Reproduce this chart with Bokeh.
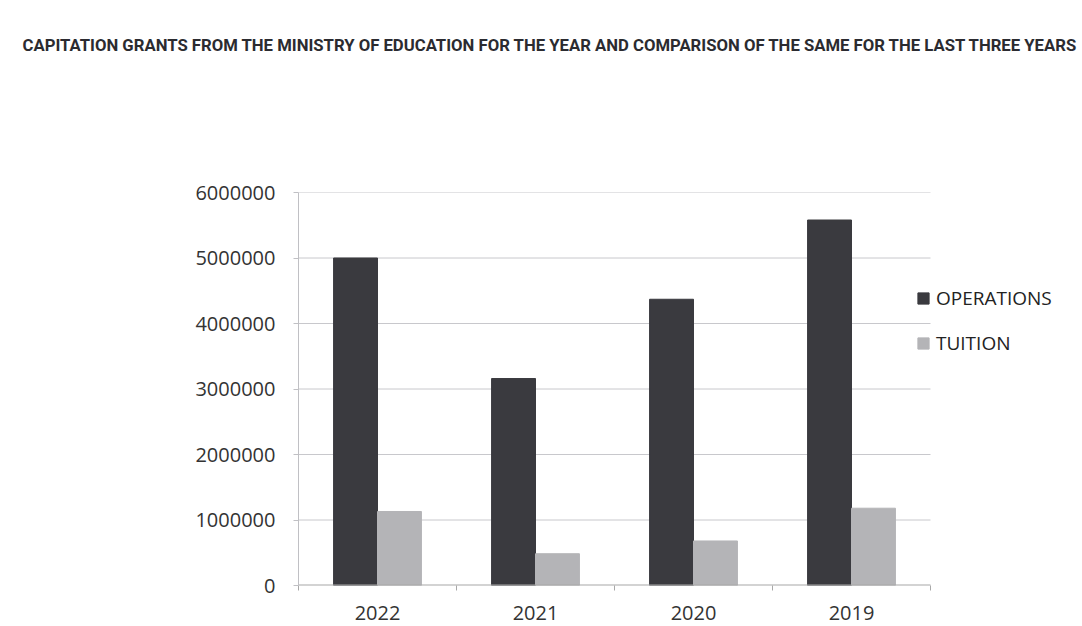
import numpy as np
from bokeh.plotting import figure
from bokeh.models import (Range1d, FixedTicker, BasicTickFormatter, Legend, LegendItem,
                          ColumnDataSource, LinearAxis)
from bokeh.embed import file_html
from bokeh.resources import INLINE

title_text = ("CAPITATION GRANTS FROM THE MINISTRY OF EDUCATION FOR THE YEAR AND "
              "COMPARISON OF THE SAME FOR THE LAST THREE YEARS")
years = ["2022", "2021", "2020", "2019"]
operations = [5000000, 3160000, 4370000, 5580000]
tuition = [1130000, 485000, 680000, 1180000]
y_ticks = [0, 1000000, 2000000, 3000000, 4000000, 5000000, 6000000]

OPS_COLOR = "#3a3a3f"
TUI_COLOR = "#b4b4b7"
GRID_COLOR = "#c8c8cc"
AXIS_COLOR = "#a8a8a8"
FONT = "Open Sans"

# layout (pixels): plot area spans x 298..930, y 192..585; the frame is extended to the
# right edge so that the legend (drawn inside the frame) is not clipped
LEFT, AXIS_RIGHT, WIDTH = 298, 930, 1082
n = len(years)
x_end = n * (WIDTH - LEFT) / (AXIS_RIGHT - LEFT)

centers = np.arange(n) + 0.5
bar_w = 0.278
src = ColumnDataSource(dict(x_ops=centers - bar_w / 2, x_tui=centers + bar_w / 2,
                            ops=operations, tui=tuition, year=years))

p = figure(width=WIDTH, height=626, output_backend="svg", toolbar_location=None,
           x_range=Range1d(0, x_end), y_range=Range1d(0, 6000000),
           min_border_left=LEFT, min_border_right=0, min_border_top=192,
           min_border_bottom=41, background_fill_color="white",
           border_fill_color="white", outline_line_color=None)

p.title.text = title_text
p.title.text_font = "Roboto"
p.title.text_font_style = "bold"
p.title.text_font_size = "16.7px"
p.title.text_color = "#2b2b30"
p.title.align = "left"
p.title.offset = -276
p.title.standoff = 10

# gridlines limited to the category area
grid_y = y_ticks[1:]
p.segment(x0=[0] * len(grid_y), x1=[n] * len(grid_y), y0=grid_y, y1=grid_y,
          line_color=GRID_COLOR, line_width=1)

r_ops = p.vbar(x="x_ops", top="ops", width=bar_w, bottom=0, source=src,
               fill_color=OPS_COLOR, line_color=OPS_COLOR)
r_tui = p.vbar(x="x_tui", top="tui", width=bar_w, bottom=0, source=src,
               fill_color=TUI_COLOR, line_color=TUI_COLOR)

# x axis baseline limited to the category area
p.segment(x0=[0], x1=[n], y0=[0], y1=[0], line_color=AXIS_COLOR, line_width=2)

xa = p.below[0]
xa.ticker = FixedTicker(ticks=list(centers), minor_ticks=list(range(n + 1)))
xa.major_label_overrides = {float(c): y for c, y in zip(centers, years)}
xa.major_tick_line_color = None
xa.major_tick_out = 0
xa.major_tick_in = 0
xa.minor_tick_line_color = AXIS_COLOR
xa.minor_tick_out = 5
xa.minor_tick_in = 0
xa.axis_line_color = None
xa.major_label_text_font = FONT
xa.major_label_text_font_size = "20px"
xa.major_label_text_color = "#333333"
xa.major_label_standoff = 15

ya = p.left[0]
ya.ticker = FixedTicker(ticks=y_ticks)
ya.formatter = BasicTickFormatter(use_scientific=False)
ya.axis_line_color = "#c0c0c4"
ya.major_tick_line_color = "#c0c0c4"
ya.major_tick_out = 5
ya.major_tick_in = 0
ya.minor_tick_line_color = None
ya.major_label_text_font = FONT
ya.major_label_text_font_size = "20px"
ya.major_label_text_color = "#333333"
ya.major_label_standoff = 18

p.xgrid.grid_line_color = None
p.ygrid.grid_line_color = None

# invisible axis above the frame (one hidden tick, empty label): only a spacer that
# lifts the title to the top of the picture
spacer_tick = float(centers[0])
spacer = LinearAxis(ticker=FixedTicker(ticks=[spacer_tick], minor_ticks=[]),
                    major_tick_out=133, major_tick_in=0,
                    major_label_standoff=0, axis_label_standoff=0,
                    major_label_overrides={spacer_tick: ""},
                    axis_line_color=None, major_tick_line_color=None,
                    minor_tick_line_color=None, major_label_text_font_size="1px")
p.add_layout(spacer, "above")

legend = Legend(items=[LegendItem(label="OPERATIONS", renderers=[r_ops]),
                       LegendItem(label="TUITION", renderers=[r_tui])],
                location=(618, 229), padding=0, margin=0, spacing=19,
                glyph_width=14, glyph_height=14, label_height=20,
                label_standoff=6, label_text_font=FONT,
                label_text_font_size="19px", label_text_color="#222222",
                border_line_color=None, background_fill_alpha=0)
p.add_layout(legend, "center")

open("out.html", "w").write(file_html(p, INLINE))
